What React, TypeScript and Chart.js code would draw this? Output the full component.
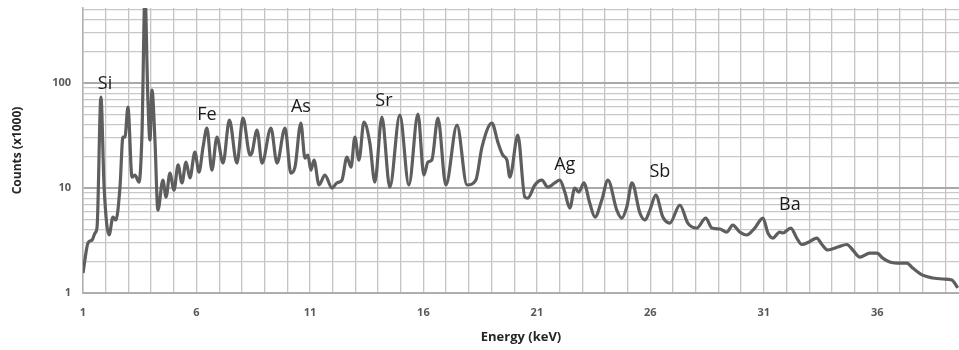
import React, { useEffect, useRef } from "react";
import { Chart, registerables } from "chart.js";

Chart.register(...registerables);

// Energy (keV) of each trace point
const energy: number[] = [
  1.0, 1.22, 1.4, 1.53, 1.62, 1.79, 1.93, 2.15, 2.32, 2.45, 2.63, 2.76, 2.85, 2.98,
  3.16, 3.29, 3.47, 3.6, 3.73, 3.86, 3.95, 4.04, 4.17, 4.3, 4.52, 4.66, 4.83, 5.01,
  5.19, 5.36, 5.54, 5.71, 5.93, 6.11, 6.29, 6.46, 6.68, 6.9, 7.17, 7.45, 7.78, 8.05,
  8.36, 8.44, 8.67, 8.89, 9.28, 9.55, 9.9, 10.16, 10.34, 10.6, 10.78, 10.91, 11.04,
  11.18, 11.4, 11.66, 11.97, 12.19, 12.41, 12.63, 12.81, 12.98, 13.16, 13.38, 13.64,
  13.86, 14.17, 14.52, 14.96, 15.36, 15.76, 16.02, 16.2, 16.37, 16.64, 16.99, 17.48,
  17.92, 18.31, 18.58, 19.02, 19.28, 19.5, 19.68, 19.81, 20.16, 20.47, 20.6, 20.91,
  21.22, 21.48, 21.79, 22.01, 22.23, 22.45, 22.67, 22.85, 23.07, 23.33, 23.56, 23.86,
  24.13, 24.52, 24.74, 24.96, 25.19, 25.54, 25.76, 25.98, 26.24, 26.55, 26.86, 27.3,
  27.65, 28.05, 28.44, 28.71, 29.06, 29.37, 29.63, 29.94, 30.25, 30.6, 30.96, 31.18,
  31.4, 31.7, 31.84, 32.19, 32.45, 32.67, 33.03, 33.33, 33.56, 33.82, 34.26, 34.66,
  34.92, 35.23, 35.67, 35.98, 36.24, 36.55, 36.86, 37.3, 37.56, 38.0, 38.44, 38.89,
  39.28, 39.55,
];

// Counts (x1000) of each trace point
const counts: number[] = [
  1.55, 3.0, 3.2, 3.73, 4.25, 73.6, 10.2, 3.57, 5.29, 4.96, 10.2, 30.6, 30.6, 59.1,
  12.7, 13.3, 11.4, 33.4, 700, 68.9, 28.7, 85.8, 28.7, 6.17, 11.9, 8.2, 13.9, 9.57,
  16.6, 11.2, 17.7, 12.5, 22.0, 14.2, 24.6, 37.3, 14.8, 30.6, 17.3, 44.4, 17.3, 46.4,
  20.6, 21.5, 35.7, 17.3, 37.3, 17.3, 37.3, 13.9, 15.8, 41.6, 19.3, 20.6, 14.8,
  18.5, 10.7, 13.3, 10.0, 11.2, 11.9, 19.7, 15.8, 30.6, 18.5, 42.5, 26.8,
  11.4, 47.4, 10.2, 49.6, 10.7, 50.7, 13.3, 17.7, 18.5, 46.4, 10.7, 39.8,
  10.7, 11.9, 24.6, 41.6, 27.4, 20.6, 18.5, 12.7, 32.0, 8.2, 8.03, 10.7,
  11.9, 10.2, 11.2, 11.9, 9.16, 6.45, 10.0, 9.16, 11.2, 7.2, 5.29, 7.69,
  11.9, 6.17, 5.18, 6.59, 11.2, 5.78, 4.96, 6.17, 8.58, 5.29, 4.64, 6.89,
  4.64, 4.16, 5.18, 4.16, 4.07, 3.81, 4.44, 3.81, 3.57, 4.16, 5.18, 3.73,
  3.34, 3.81, 3.73, 4.16, 3.34, 2.9, 3.1, 3.34, 2.9, 2.57, 2.74, 2.9,
  2.57, 2.2, 2.4, 2.4, 2.15, 1.97, 1.93, 1.93, 1.73, 1.48, 1.39,
  1.36, 1.33, 1.12,
];

// Element labels
const peakLabels: string[] = ["Si", "Fe", "As", "Sr", "Ag", "Sb", "Ba"];
const peakLabelEnergy: number[] = [1.97, 6.46, 10.6, 14.26, 22.23, 26.42, 32.15];
const peakLabelCounts: number[] = [98, 49.6, 59, 67.4, 16.6, 14.2, 6.9];

const xLabelTicks: number[] = [1, 6, 11, 16, 21, 26, 31, 36];
const yLabelTicks: number[] = [1, 10, 100];
const yGridValues: number[] = [
  1, 2, 3, 4, 5, 6, 7, 8, 9, 10, 20, 30, 40, 50, 60, 70, 80, 90, 100, 200, 300, 400, 500,
];

const labelPlugin = {
  id: "peakLabels",
  afterDatasetsDraw(chart: any) {
    const { ctx, scales } = chart;
    ctx.save();
    ctx.font = "18px 'Open Sans', sans-serif";
    ctx.fillStyle = "#1a1a1a";
    ctx.textAlign = "center";
    ctx.textBaseline = "middle";
    peakLabels.forEach((t, i) => {
      const x = scales.x.getPixelForValue(peakLabelEnergy[i]);
      const y = scales.y.getPixelForValue(peakLabelCounts[i]);
      ctx.fillText(t, x, y);
    });
    ctx.restore();
  },
};

export default function App() {
  const ref = useRef<HTMLCanvasElement | null>(null);

  useEffect(() => {
    document.body.style.margin = "0";
    const canvas = ref.current;
    if (!canvas) return;
    const chart = new Chart(canvas, {
      type: "line",
      data: {
        datasets: [
          {
            data: energy.map((e, i) => ({ x: e, y: counts[i] })),
            borderColor: "#5e5e5e",
            borderWidth: 3.2,
            pointRadius: 0,
            cubicInterpolationMode: "monotone",
            fill: false,
          },
        ],
      },
      options: {
        animation: false,
        responsive: false,
        maintainAspectRatio: false,
        layout: { padding: { top: 8, right: 0, left: 0, bottom: 0 } },
        plugins: { legend: { display: false }, tooltip: { enabled: false } },
        scales: {
          x: {
            type: "linear",
            min: 1,
            max: 39.6,
            afterBuildTicks: (scale: any) => {
              const t = [];
              for (let v = 1; v <= 39; v++) t.push({ value: v });
              scale.ticks = t;
            },
            afterFit: (scale: any) => {
              scale.height = 57;
              scale.paddingLeft = 0;
              scale.paddingRight = 0;
            },
            ticks: {
              autoSkip: false,
              maxRotation: 0,
              padding: 13,
              color: "#595959",
              font: { family: "'Open Sans', sans-serif", size: 11, weight: "bold" },
              callback: (v: any) => (xLabelTicks.includes(Number(v)) ? String(v) : ""),
            },
            grid: { color: "#c4c4c4", lineWidth: 1.3, drawTicks: false },
            border: { color: "#b0b0b0", width: 1.5 },
            title: {
              display: true,
              text: "Energy (keV)",
              color: "#262626",
              font: { family: "'Open Sans', sans-serif", size: 13, weight: "bold" },
              padding: { top: 0, bottom: 5 },
            },
          },
          y: {
            type: "logarithmic",
            min: 1,
            max: 520,
            afterBuildTicks: (scale: any) => {
              scale.ticks = yGridValues.map((v) => ({ value: v }));
            },
            afterFit: (scale: any) => {
              scale.width = 83;
              scale.paddingTop = 0;
              scale.paddingBottom = 0;
            },
            ticks: {
              autoSkip: false,
              padding: 12,
              color: "#595959",
              font: { family: "'Open Sans', sans-serif", size: 11, weight: "bold" },
              callback: (v: any) => (yLabelTicks.includes(Number(v)) ? String(v) : ""),
            },
            grid: {
              drawTicks: false,
              color: (c: any) =>
                c.tick && yLabelTicks.includes(c.tick.value) ? "#a9a9a9" : "#c8c8c8",
              lineWidth: (c: any) =>
                c.tick && yLabelTicks.includes(c.tick.value) ? 2 : 1.3,
            },
            border: { color: "#b0b0b0", width: 1.5 },
            title: {
              display: true,
              text: "Counts (x1000)",
              color: "#262626",
              font: { family: "'Open Sans', sans-serif", size: 12, weight: "bold" },
              padding: { top: 10, bottom: 0 },
            },
          },
        },
      },
      plugins: [labelPlugin],
    } as any);
    return () => chart.destroy();
  }, []);

  return (
    <div style={{ position: "absolute", left: 0, top: 0, width: 959, height: 350, background: "#fff" }}>
      <canvas ref={ref} width={959} height={350} style={{ width: 959, height: 350 }} />
    </div>
  );
}
